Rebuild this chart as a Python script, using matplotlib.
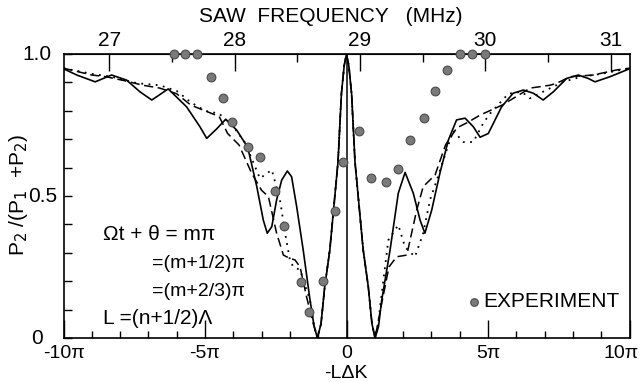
import matplotlib
matplotlib.use("Agg")
import matplotlib.pyplot as plt
import matplotlib.transforms as mtransforms
import numpy as np
from matplotlib.ticker import FixedLocator, MultipleLocator

plt.rcParams['font.family'] = ['Liberation Sans', 'DejaVu Sans']

# x values are in units of pi (-L*dK / pi)
solid_x = [-10, -9.53, -8.88, -8.30, -7.77, -7.30, -6.88, -6.30, -5.65, -5.18, -4.94, -4.60, -4.27,
           -3.88, -3.49, -3.17, -2.94, -2.80, -2.64, -2.47, -2.29, -2.09, -1.94, -1.76, -1.53,
           -1.29, -1.15, -1.03, -0.90, -0.77, -0.59, -0.48, -0.30, -0.18, -0.08, 0.0,
           0.08, 0.18, 0.30, 0.48, 0.59, 0.77, 0.90, 1.01, 1.13, 1.24, 1.54, 1.83, 2.07, 2.36, 2.60, 2.77,
           3.01, 3.30, 3.60, 3.89, 4.19, 4.48, 4.72, 5.01, 5.48, 5.89, 6.25, 6.60, 6.95, 7.31,
           7.78, 8.19, 8.54, 8.78, 9.31, 10]
solid_y = [0.948, 0.926, 0.902, 0.926, 0.908, 0.867, 0.838, 0.877, 0.814, 0.744, 0.703, 0.735, 0.770,
           0.732, 0.671, 0.533, 0.415, 0.369, 0.392, 0.486, 0.556, 0.588, 0.568, 0.462, 0.310,
           0.134, 0.045, 0.0, 0.05, 0.18, 0.31, 0.427, 0.62, 0.86, 0.96, 1.0,
           0.96, 0.86, 0.62, 0.427, 0.31, 0.18, 0.05, 0.0, 0.04, 0.13, 0.31, 0.51, 0.583, 0.51, 0.415, 0.369,
           0.45, 0.58, 0.697, 0.768, 0.774, 0.744, 0.707, 0.72, 0.814, 0.862, 0.873, 0.862, 0.838, 0.867,
           0.914, 0.926, 0.914, 0.902, 0.92, 0.948]

dotted_x = [-10, -9.0, -8.3, -7.4, -6.6, -6.0, -5.5, -5.0, -4.5, -4.0, -3.6, -3.3, -3.06, -2.64,
            -2.35, -2.17, -2.0, -1.88, -1.64, -1.53, -1.29, -1.15, -1.03, -0.90, -0.77, -0.59, -0.48, -0.30,
            -0.18, -0.08, 0.0, 0.08, 0.18, 0.30, 0.48, 0.59, 0.77, 0.90, 1.01, 1.12, 1.2, 1.48, 1.83, 2.07,
            2.42, 2.71, 2.95, 3.19, 3.5, 3.77, 4.13, 4.48, 4.83, 5.07, 5.72, 6.19, 6.48, 7.0,
            7.66, 8.3, 9.0, 10]
dotted_y = [0.95, 0.93, 0.92, 0.897, 0.89, 0.87, 0.83, 0.80, 0.79, 0.745, 0.69, 0.62, 0.562, 0.592,
            0.486, 0.369, 0.275, 0.25, 0.24, 0.204, 0.134, 0.045, 0.0, 0.05, 0.18, 0.31, 0.427, 0.62,
            0.86, 0.96, 1.0, 0.96, 0.86, 0.62, 0.427, 0.31, 0.18, 0.05, 0.0, 0.05, 0.12, 0.345, 0.398, 0.32,
            0.286, 0.369, 0.486, 0.556, 0.65, 0.73, 0.69, 0.69, 0.756, 0.79, 0.86, 0.867, 0.844, 0.87,
            0.902, 0.92, 0.93, 0.95]

dashed_x = [-10, -9.0, -8.5, -7.8, -7.2, -6.6, -6.0, -5.5, -5.0, -4.5, -4.2, -3.8, -3.35, -3.0,
            -2.76, -2.47, -2.23, -2.0, -1.82, -1.64, -1.4, -1.2, -1.03, -0.90, -0.77, -0.59, -0.48,
            -0.30, -0.18, -0.08, 0.0, 0.08, 0.18, 0.30, 0.48, 0.59, 0.77, 0.90, 1.01, 1.2, 1.5, 1.77,
            2.13, 2.48, 2.71, 3.13, 3.5, 3.9, 4.3, 4.72, 5.5, 6.49, 7.19, 7.43, 7.9, 8.72, 9.55, 10]
dashed_y = [0.95, 0.926, 0.92, 0.905, 0.89, 0.88, 0.86, 0.82, 0.80, 0.78, 0.72, 0.68, 0.58, 0.52,
            0.498, 0.369, 0.292, 0.28, 0.275, 0.25, 0.14, 0.06, 0.0, 0.05, 0.18, 0.31, 0.427,
            0.62, 0.86, 0.96, 1.0, 0.96, 0.86, 0.62, 0.427, 0.31, 0.18, 0.05, 0.0, 0.1, 0.25, 0.286,
            0.292, 0.45, 0.533, 0.574, 0.68, 0.74, 0.76, 0.785, 0.82, 0.88, 0.89, 0.897, 0.92, 0.926, 0.944, 0.95]

exp_x = [-6.09, -5.70, -5.29, -4.80, -4.38, -4.06, -3.49, -3.06, -2.53, -2.20, -1.61, -1.31,
         -0.82, -0.41, -0.11, 0.45, 0.86, 1.40, 1.81, 2.24, 2.74, 3.13, 3.56, 4.01, 4.42, 4.89]
exp_y = [1.0, 1.0, 1.0, 0.920, 0.846, 0.762, 0.671, 0.638, 0.519, 0.394, 0.196, 0.093,
         0.200, 0.448, 0.621, 0.729, 0.564, 0.549, 0.595, 0.697, 0.774, 0.870, 0.943, 1.0, 1.0, 1.0]

x_tick_vals = [-10, -5, 0, 5, 10]
x_tick_labels = ['-10π', '-5π', '0', '5π', '10π']
y_tick_vals = [0, 0.5, 1.0]
y_tick_labels = ['0', '0.5', '1.0']
freq_ticks = [27, 28, 29, 30, 31]
F0 = 28.892   # frequency at -L dK = 0
PI_PER_MHZ = 4.429

W, H = 641, 382
fig = plt.figure(figsize=(W / 100, H / 100), dpi=100)
L, R, T, B = 63.5, 629.5, 54, 338
ax = fig.add_axes([L / W, 1 - B / H, (R - L) / W, (B - T) / H])

ax.plot(solid_x, solid_y, color='black', lw=1.2, ls='-')
ax.plot(dashed_x, dashed_y, color='black', lw=1.1, ls=(0, (6, 3)))
ax.plot(dotted_x, dotted_y, color='black', lw=1.3, ls=(0, (1, 3)))
ax.axvline(0, color='black', lw=1.1)
ax.plot(exp_x, exp_y, 'o', ms=6.3, mfc='#7a7a7a', mec='#4a4a4a', mew=0.8, clip_on=False, zorder=5)

ax.set_xlim(-10, 10)
ax.set_ylim(0, 1.0)
ax.set_xticks(x_tick_vals)
ax.set_xticklabels(x_tick_labels)
ax.xaxis.set_minor_locator(MultipleLocator(1))
ax.set_yticks(y_tick_vals)
ax.set_yticklabels([])
ax.yaxis.set_minor_locator(MultipleLocator(0.1))
ax.tick_params(axis='x', which='major', direction='in', length=13, width=1.0, labelsize=14, pad=5)
ax.tick_params(axis='x', which='minor', direction='in', length=5, width=1.0)
ax.tick_params(axis='y', which='major', direction='in', length=6, width=1.0)
ax.tick_params(axis='y', which='minor', direction='in', length=6, width=1.0)
for s in ax.spines.values():
    s.set_linewidth(1.2)

# nudge the last x tick label so it stays inside the figure, as in the original
last = ax.get_xticklabels()[-1]
last.set_transform(last.get_transform() + mtransforms.ScaledTranslation(-8 / 100, 0, fig.dpi_scale_trans))

# y tick labels placed like the hand-lettered original
ytr = mtransforms.blended_transform_factory(fig.transFigure, ax.transData)
for val, lab, xr in zip(y_tick_vals, y_tick_labels, [43, 57, 52]):
    fig.text(xr / W, val, lab, transform=ytr, fontsize=15, ha='right', va='center')

sec = ax.secondary_xaxis('top', functions=(lambda x: F0 + np.asarray(x) / PI_PER_MHZ,
                                           lambda f: (np.asarray(f) - F0) * PI_PER_MHZ))
sec.set_xticks(freq_ticks)
sec.set_xticklabels([str(t) for t in freq_ticks])
sec.xaxis.set_minor_locator(FixedLocator([27.5, 28.5, 29.5, 30.5]))
sec.tick_params(which='major', direction='in', length=12, width=1.0, labelsize=15, pad=3)
sec.tick_params(which='minor', direction='in', length=6, width=1.0)

fig.text(331 / W, 1 - 16 / H, 'SAW  FREQUENCY   (MHz)', fontsize=15, ha='center', va='center')
fig.text(346 / W, 1 - 373 / H, '-LΔK', fontsize=14, ha='center', va='center')
fig.text(19 / W, 1 - 195 / H, r'P$_2$ /(P$_1$  +P$_2$)', fontsize=15, ha='center', va='center',
         rotation=90)

ax.text(-8.60, 0.363, 'Ωt + θ = mπ', fontsize=15, va='center', ha='left')
ax.text(-6.87, 0.264, '=(m+1/2)π', fontsize=14, va='center', ha='left')
ax.text(-6.87, 0.162, '=(m+2/3)π', fontsize=14, va='center', ha='left')
ax.text(-8.60, 0.070, 'L =(n+1/2)Λ', fontsize=15, va='center', ha='left')
ax.plot([4.51], [0.127], 'o', ms=5.5, mfc='#7a7a7a', mec='#4a4a4a', mew=0.8)
ax.text(4.82, 0.127, 'EXPERIMENT', fontsize=15, va='center', ha='left')

fig.savefig('out.png', dpi=100)
